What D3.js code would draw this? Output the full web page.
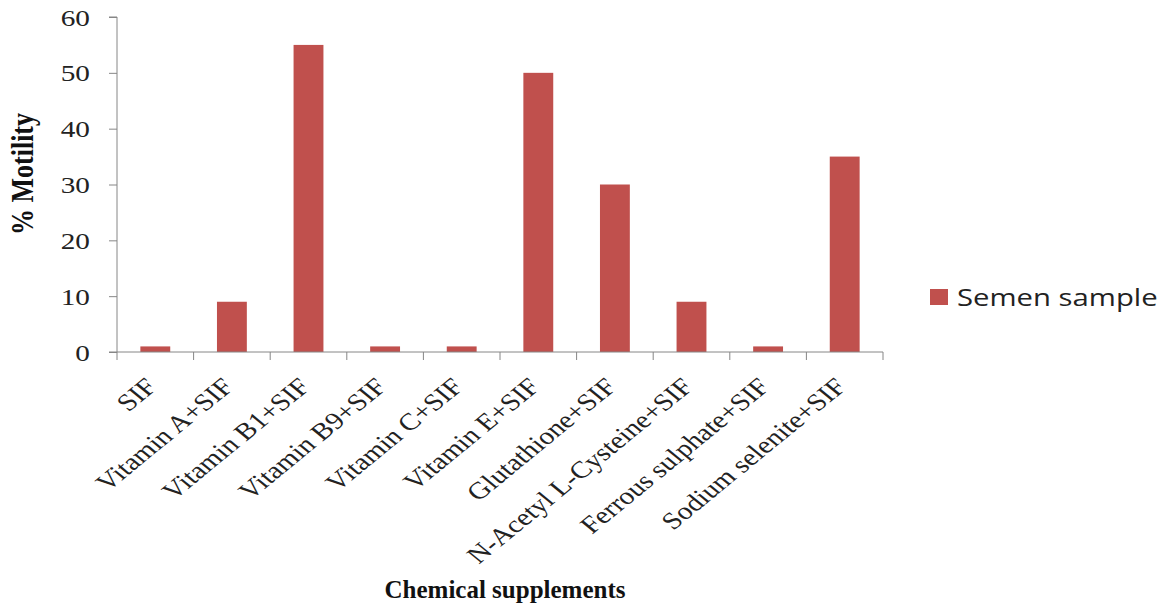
<!DOCTYPE html>
<html><head><meta charset="utf-8">
<script src="https://cdn.jsdelivr.net/npm/d3@7"></script>
<style>body{margin:0;background:#fff}</style>
</head><body>
<svg id="c" width="1173" height="606"></svg>
<script>
const categories = ["SIF","Vitamin A+SIF","Vitamin B1+SIF","Vitamin B9+SIF","Vitamin C+SIF","Vitamin E+SIF","Glutathione+SIF","N-Acetyl L-Cysteine+SIF","Ferrous sulphate+SIF","Sodium selenite+SIF"];
const semenSample = [1, 9, 55, 1, 1, 50, 30, 9, 1, 35];
const yTicks = [0, 10, 20, 30, 40, 50, 60];
const seriesName = "Semen sample";

const svg = d3.select("#c");
const x0 = 117, x1 = 883, yTop = 17, yBot = 352;
const x = d3.scaleBand().domain(categories).range([x0, x1]).paddingInner(0.61).paddingOuter(0.305);
const xb = d3.scaleBand().domain(categories).range([x0, x1]);
const y = d3.scaleLinear().domain([0, 60]).range([yBot, yTop]);
const axisColor = "#868686";
const serif = "'Liberation Serif','Times New Roman',serif";
const SX = 1.22; // horizontal stretch of the reference typography

// bars
svg.append("g").selectAll("rect").data(categories).join("rect")
  .attr("x", d => x(d)).attr("width", x.bandwidth())
  .attr("y", (d,i) => y(semenSample[i])).attr("height", (d,i) => y(0) - y(semenSample[i]))
  .attr("fill", "#C0504D");

// y axis
const ya = svg.append("g").attr("transform", `translate(${x0},0)`)
  .call(d3.axisLeft(y).tickValues(yTicks).tickSize(8));
ya.select(".domain").attr("stroke", axisColor).attr("d", `M-8,${yTop}H0V${yBot}H-8`);
ya.selectAll(".tick line").attr("stroke", axisColor);
ya.selectAll(".tick text").attr("x", 0).attr("dy", null).attr("dominant-baseline", "central")
  .attr("transform", `translate(-27,0) scale(${SX},1)`)
  .attr("font-family", serif).attr("font-size", 24).attr("fill", "#222");

// x axis line and ticks between categories
svg.append("line").attr("x1", x0).attr("x2", x1).attr("y1", yBot).attr("y2", yBot).attr("stroke", axisColor);
const bounds = categories.map(c => xb(c)).concat([x1]);
svg.append("g").selectAll("line").data(bounds).join("line")
  .attr("x1", d => d).attr("x2", d => d).attr("y1", yBot).attr("y2", yBot + 8).attr("stroke", axisColor);

// x labels
svg.append("g").selectAll("text").data(categories).join("text")
  .attr("transform", d => `translate(${xb(d) + xb.bandwidth()/2 + 3},${yBot + 36}) scale(${SX},1) rotate(-45)`)
  .attr("text-anchor", "end").attr("font-family", serif).attr("font-size", 24).attr("fill", "#222")
  .text(d => d);

// titles
svg.append("text").attr("transform", `translate(33,174) scale(${SX},1) rotate(-90)`).attr("text-anchor", "middle")
  .attr("font-family", serif).attr("font-weight", "bold").attr("font-size", 26).attr("fill", "#111")
  .text("% Motility");
svg.append("text").attr("x", 505).attr("y", 598).attr("text-anchor", "middle")
  .attr("font-family", serif).attr("font-weight", "bold").attr("font-size", 25).attr("fill", "#111")
  .text("Chemical supplements");

// legend
const lg = svg.append("g").attr("transform", "translate(930,289)");
lg.append("rect").attr("width", 18).attr("height", 16).attr("fill", "#C0504D");
lg.append("text").attr("transform", `translate(27,17) scale(${SX},1)`).attr("font-family", "'Open Sans',sans-serif").attr("font-size", 24).attr("fill", "#222").text(seriesName);
</script>
</body></html>
